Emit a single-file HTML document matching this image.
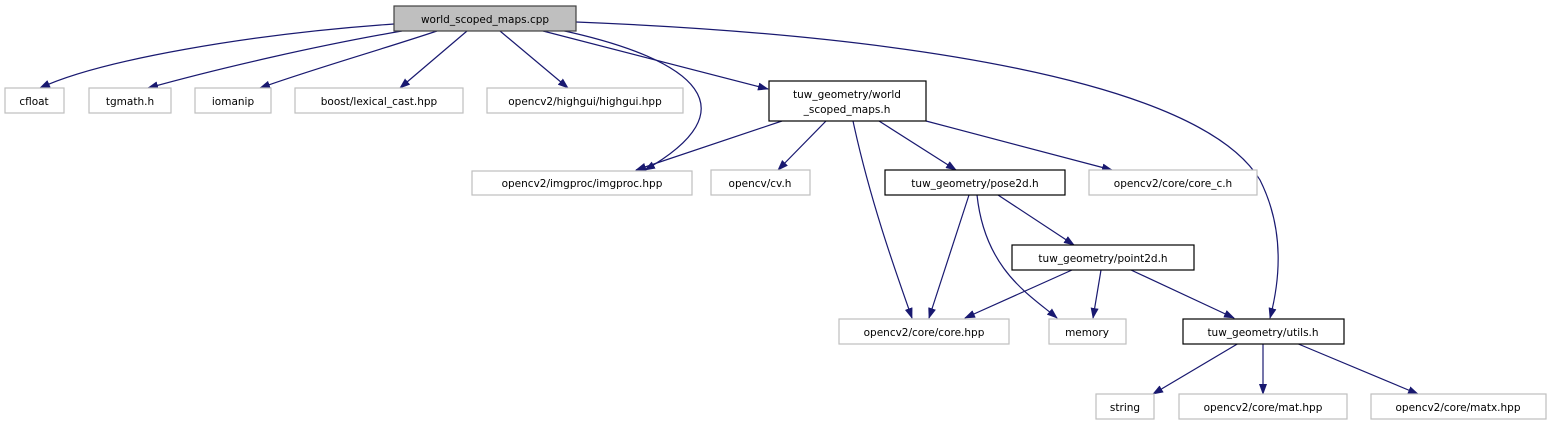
<!DOCTYPE html>
<html><head><meta charset="utf-8"><style>
html,body{margin:0;padding:0;background:#fff;width:1549px;height:425px;overflow:hidden}
svg text{font-family:"DejaVu Sans","Liberation Sans",sans-serif;font-size:10.5px;fill:#000}
</style></head><body>
<svg width="1549" height="425" xmlns="http://www.w3.org/2000/svg">
<defs><marker id="a" markerWidth="11" markerHeight="8" refX="10" refY="4" orient="auto" markerUnits="userSpaceOnUse"><path d="M0,0 L11,4 L0,8 z" fill="#191970"/></marker></defs>
<g fill="none" stroke="#191970" stroke-width="1.2" marker-end="url(#a)">
<path d="M394,24 C250,34 100,60 40,88"/>
<path d="M402,31 C320,45 220,68 148,88"/>
<path d="M437,31 C380,50 310,70 260,88"/>
<path d="M467,31 L400,88"/>
<path d="M500,31 L568,88"/>
<path d="M543,31 L768,89"/>
<path d="M560,30 C700,60 750,110 645,170"/>
<path d="M576,22 C900,35 1200,80 1260,180 C1285,230 1280,280 1270,318"/>
<path d="M782,121 L636,170"/>
<path d="M826,121 L778,170"/>
<path d="M879,121 L956,170"/>
<path d="M926,121 L1112,170"/>
<path d="M853,121 C870,200 895,270 912,318"/>
<path d="M969,195 L929,318"/>
<path d="M977,195 C985,270 1030,295 1057,318"/>
<path d="M998,195 L1074,245"/>
<path d="M1072,270 L965,318"/>
<path d="M1101,270 L1093,318"/>
<path d="M1131,270 L1234,318"/>
<path d="M1239,343 L1153,394"/>
<path d="M1263,343 L1263,394"/>
<path d="M1296,343 L1418,394"/>
</g>
<g stroke-width="1.2">
<rect x="394" y="6" width="182" height="25" fill="#bfbfbf" stroke="#404040"/>
<g fill="#fff" stroke="#bfbfbf">
<rect x="5" y="88" width="59" height="25"/>
<rect x="89" y="88" width="82" height="25"/>
<rect x="195" y="88" width="76" height="25"/>
<rect x="295" y="88" width="168" height="25"/>
<rect x="487" y="88" width="196" height="25"/>
<rect x="472" y="171" width="220" height="24"/>
<rect x="711" y="170" width="99" height="25"/>
<rect x="1089" y="170" width="168" height="25"/>
<rect x="839" y="319" width="170" height="25"/>
<rect x="1049" y="319" width="77" height="25"/>
<rect x="1096" y="394" width="58" height="25"/>
<rect x="1179" y="394" width="168" height="25"/>
<rect x="1371" y="394" width="175" height="25"/>
</g>
<g fill="#fff" stroke="#000">
<rect x="769" y="81" width="157" height="40"/>
<rect x="885" y="170" width="180" height="25"/>
<rect x="1012" y="245" width="182" height="25"/>
<rect x="1183" y="319" width="161" height="25"/>
</g>
</g>
<g text-anchor="middle">
<text x="485" y="23">world_scoped_maps.cpp</text>
<text x="34" y="105">cfloat</text>
<text x="130" y="105">tgmath.h</text>
<text x="233" y="105">iomanip</text>
<text x="379" y="105">boost/lexical_cast.hpp</text>
<text x="585" y="105">opencv2/highgui/highgui.hpp</text>
<text x="847" y="98">tuw_geometry/world</text>
<text x="847" y="113">_scoped_maps.h</text>
<text x="582" y="187">opencv2/imgproc/imgproc.hpp</text>
<text x="760" y="187">opencv/cv.h</text>
<text x="975" y="187">tuw_geometry/pose2d.h</text>
<text x="1173" y="187">opencv2/core/core_c.h</text>
<text x="1103" y="262">tuw_geometry/point2d.h</text>
<text x="924" y="336">opencv2/core/core.hpp</text>
<text x="1087" y="336">memory</text>
<text x="1263" y="336">tuw_geometry/utils.h</text>
<text x="1125" y="411">string</text>
<text x="1263" y="411">opencv2/core/mat.hpp</text>
<text x="1458" y="411">opencv2/core/matx.hpp</text>
</g>
</svg>
</body></html>
